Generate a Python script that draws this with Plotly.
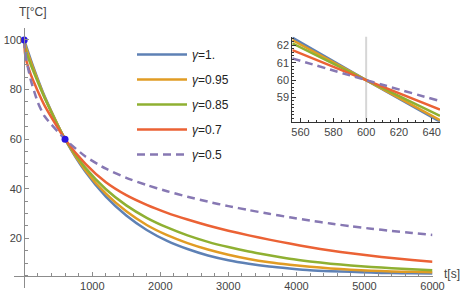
import plotly.graph_objects as go

# ---- data ----
t = [0, 10, 25, 50, 100, 150, 200, 300, 600, 900, 1200, 1500, 1800, 2100, 2400, 2700,
     3000, 3300, 3600, 3900, 4200, 4500, 4800, 5100, 5400, 5700, 6000]

g100 = [100, 99.1, 97.9, 95.8, 91.7, 87.9, 84.2, 77.3, 60, 46.8, 36.8, 29.2, 23.4, 19.0,
        15.7, 13.1, 11.2, 9.8, 8.7, 7.9, 7.2, 6.8, 6.5, 6.2, 6.0, 5.9, 5.8]
g095 = [100, 98.5, 97.0, 95.0, 91.0, 87.3, 83.7, 76.9, 60, 47.4, 38.0, 30.9, 25.4, 21.3,
        18.1, 15.5, 13.4, 11.7, 10.4, 9.4, 8.6, 7.9, 7.4, 7.0, 6.7, 6.5, 6.3]
g085 = [100, 97.3, 95.6, 93.5, 89.8, 86.3, 83.0, 76.6, 60, 48.4, 39.8, 33.3, 28.3, 24.4,
        21.2, 18.6, 16.5, 14.7, 13.2, 11.8, 10.7, 9.8, 9.1, 8.5, 8.0, 7.6, 7.2]
g070 = [100, 95.0, 92.5, 89.8, 85.8, 82.5, 79.3, 73.5, 60, 50.0, 42.6, 37.4, 33.5, 30.3,
        27.6, 25.2, 23.1, 21.2, 19.5, 17.9, 16.4, 15.1, 14.0, 13.0, 12.1, 11.3, 10.6]
g050 = [100, 96.0, 93.0, 89.5, 83.5, 79.0, 74.8, 69.2, 60, 53.0, 48.1, 44.4, 41.5, 39.0,
        36.8, 34.8, 33.0, 31.4, 29.9, 28.5, 27.2, 26.0, 24.9, 23.9, 23.0, 22.2, 21.4]

# inset (zoom around t = 600 s)
t_in = [555, 600, 645]
in100 = [62.45, 60, 57.60]
in095 = [62.31, 60, 57.69]
in085 = [62.12, 60, 57.94]
in070 = [61.73, 60, 58.30]
in050 = [61.25, 60, 58.79]

labels = ["<i>γ</i>=1.", "<i>γ</i>=0.95", "<i>γ</i>=0.85", "<i>γ</i>=0.7", "<i>γ</i>=0.5"]
colors = ["#5E81B5", "#E19C24", "#8FB032", "#EB6235", "#8778B3"]
dashes = ["solid", "solid", "solid", "solid", "8px,5px"]

pts_t = [0, 600]
pts_T = [100, 60]

main_series = [g100, g095, g085, g070, g050]
inset_series = [in100, in095, in085, in070, in050]

fig = go.Figure()
for i, (ys, lab) in enumerate(zip(main_series, labels)):
    fig.add_trace(go.Scatter(
        x=t, y=ys, mode="lines", name=lab, legendgroup=f"g{i}",
        line=dict(color=colors[i], width=2.5, dash=dashes[i], shape="spline", smoothing=0.6),
        xaxis="x", yaxis="y"))
fig.add_trace(go.Scatter(x=pts_t, y=pts_T, mode="markers", showlegend=False,
                         marker=dict(color="#2a16e0", size=7), xaxis="x", yaxis="y"))
for i, ys in enumerate(inset_series):
    fig.add_trace(go.Scatter(
        x=t_in, y=ys, mode="lines", showlegend=False,
        line=dict(color=colors[i], width=2.5, dash=dashes[i], shape="spline"),
        xaxis="x2", yaxis="y2"))

axcol = "#8c8c8c"
tickfont = dict(family="Liberation Sans, Arial, sans-serif", size=11, color="#444444")

L, R, T_, B = 14, 33, 28, 7
W, H = 473, 295
pw = W - L - R
ph = H - T_ - B
main_right = (432.5 - L) / pw
xr = [-150, 6000]
yr = [0, 104.8]

fig.update_layout(
    width=W, height=H,
    margin=dict(l=L, r=R, t=T_, b=B, autoexpand=False),
    paper_bgcolor="white", plot_bgcolor="rgba(0,0,0,0)",
    showlegend=True,
    legend=dict(x=(132 - L) / pw, y=1 - (40 - T_) / ph, xanchor="left", yanchor="top",
                bgcolor="rgba(0,0,0,0)", borderwidth=0, tracegroupgap=6,
                itemwidth=50,
                font=dict(family="Liberation Sans, Arial, sans-serif", size=12, color="#222222")),
    xaxis=dict(domain=[0, main_right], range=xr, anchor="free", automargin=False,
               position=(5 - yr[0]) / (yr[1] - yr[0]),
               showgrid=False, zeroline=False, showline=True, linecolor=axcol, linewidth=1,
               ticks="inside", ticklen=4, tickcolor=axcol, tickwidth=1,
               tickvals=[1000, 2000, 3000, 4000, 5000, 6000], tickfont=tickfont,
               minor=dict(ticks="inside", ticklen=2.5, tickcolor=axcol, dtick=200, tick0=0,
                          showgrid=False)),
    yaxis=dict(domain=[0, 1], range=yr, anchor="free", automargin=False,
               position=main_right * (0 - xr[0]) / (xr[1] - xr[0]),
               showgrid=False, zeroline=False, showline=True, linecolor=axcol, linewidth=1,
               ticks="inside", ticklen=4, tickcolor=axcol, tickwidth=1,
               tickvals=[20, 40, 60, 80, 100], tickfont=tickfont,
               minor=dict(ticks="inside", ticklen=2.5, tickcolor=axcol, dtick=5, tick0=0,
                          showgrid=False)),
    xaxis2=dict(domain=[(292.3 - L) / pw, 1], range=[555, 645], anchor="y2", automargin=False,
                showgrid=False, zeroline=False, showline=True, linecolor="#333333", linewidth=1,
                ticks="inside", ticklen=4, tickcolor="#333333",
                tickvals=[560, 580, 600, 620, 640], tickfont=tickfont,
                minor=dict(ticks="inside", ticklen=2, tickcolor="#333333", dtick=5, tick0=0,
                           showgrid=False)),
    yaxis2=dict(domain=[(288 - 121.7) / ph, (288 - 36.7) / ph], range=[57.6, 62.5], anchor="x2",
                automargin=False,
                showgrid=False, zeroline=False, showline=True, linecolor="#333333", linewidth=1,
                ticks="inside", ticklen=4, tickcolor="#333333",
                tickvals=[59, 60, 61, 62], tickfont=tickfont,
                minor=dict(ticks="inside", ticklen=2, tickcolor="#333333", dtick=0.2, tick0=0,
                           showgrid=False)),
    shapes=[dict(type="line", xref="x2", yref="y2 domain", x0=600, x1=600, y0=0, y1=1,
                 line=dict(color="#d6d6d6", width=2), layer="below")],
    annotations=[
        dict(text="T[°C]", xref="paper", yref="paper", x=(32 - L) / pw, y=1 + (28 - 12) / ph,
             showarrow=False, font=dict(family="Liberation Sans, Arial, sans-serif", size=12,
                                        color="#444444"),
             xanchor="center", yanchor="middle"),
        dict(text="t[s]", xref="paper", yref="paper", x=(452 - L) / pw, y=(288 - 274) / ph,
             showarrow=False, font=dict(family="Liberation Sans, Arial, sans-serif", size=12,
                                        color="#444444"),
             xanchor="center", yanchor="middle"),
    ],
)

fig.write_html("out.html",
               config={"displayModeBar": False},
               post_script="document.body.style.margin='0px';document.body.style.overflow='hidden';")
